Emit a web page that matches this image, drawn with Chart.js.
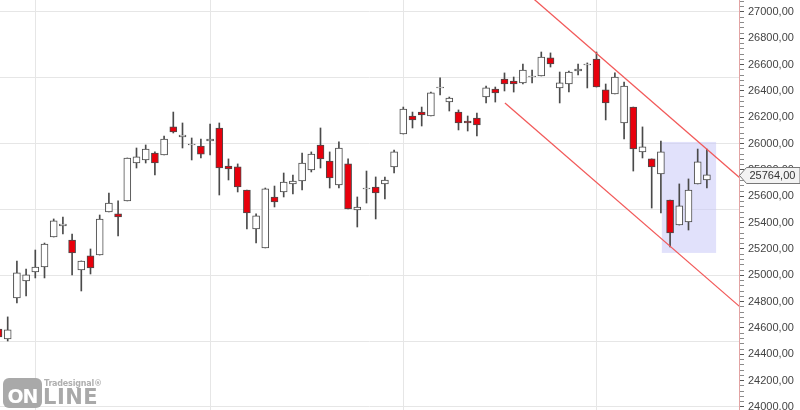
<!DOCTYPE html>
<html>
<head>
<meta charset="utf-8">
<script src="https://cdn.jsdelivr.net/npm/chart.js@4.4.1/dist/chart.umd.min.js"></script>
<style>
  html, body { margin: 0; padding: 0; background: #fff; }
  #wrap { position: relative; width: 800px; height: 410px; overflow: hidden; }
  #logo { position: absolute; left: 3px; top: 378px; height: 30px; width: 100px; font-family: "DejaVu Sans", sans-serif; }
  #logo .on { position: absolute; left: 0; top: 0; width: 39px; height: 30px; background: #a9a9a9; border-radius: 6px;
              color: #fff; font-weight: bold; font-size: 19px; line-height: 30px; text-align: center; letter-spacing: -1px; padding-top: 3px; box-sizing: border-box; }
  #logo .ts { position: absolute; left: 41px; top: 1px; font-size: 8px; font-weight: bold; color: #b0b0b0; letter-spacing: -0.2px; }
  #logo .line { position: absolute; left: 40px; top: 7px; font-size: 21px; font-weight: bold; color: #a9a9a9; letter-spacing: 0.5px; }
</style>
</head>
<body>
<div id="wrap">
  <canvas id="c" width="800" height="410"></canvas>
  <div id="logo"><div class="on">ON</div><div class="ts">Tradesignal®</div><div class="line">LINE</div></div>
</div>
<script>
// ---- data ----
const opens  = [24592,24517,24828,24957,25025,25063,25291,25375,25268,25041,25147,25154,25481,25466,25565,25853,25876,25929,25914,26127,
                26051,25990,25982,26020,26119,25830,25823,25648,25352,25208,25595,25633,25694,25716,25800,25990,25868,25686,25846,25496,
                25656,25671,25694,25823,26073,26210,26240,26210,26423,26316,26240,26172,26195,26354,26415,26491,26476,26461,26506,26514,
                26651,26423,26453,26552,26597,26643,26408,26377,26157,26278,25937,25884,25770,25572,25382,25405,25694,25724];
const highs  = [24616,24684,25109,25048,25192,25245,25428,25443,25314,25109,25200,25458,25625,25565,25891,25967,25990,25937,26058,26240,
                26157,26043,26035,26149,26157,25884,25846,25648,25466,25663,25678,25777,25762,25929,25937,26119,25937,26013,25884,25595,
                25792,25747,25747,25952,26278,26240,26278,26392,26499,26354,26256,26210,26233,26438,26430,26537,26506,26605,26559,26696,
                26689,26544,26552,26605,26613,26696,26453,26537,26468,26278,26127,25884,26020,25572,25694,25732,25959,25959];
const lows   = [24509,24501,24790,24843,24980,24980,25291,25314,25003,24881,25010,25154,25481,25299,25565,25815,25853,25762,25914,26081,
                25967,25876,25891,25914,25610,25724,25633,25352,25246,25208,25519,25595,25618,25648,25785,25815,25663,25663,25504,25367,
                25549,25428,25580,25777,26073,26119,26134,26210,26370,26248,26104,26096,26058,26309,26316,26400,26392,26453,26461,26514,
                26582,26309,26392,26522,26423,26430,26180,26377,26035,25792,25891,25511,25473,25215,25382,25344,25694,25663];
const closes = [24532,24585,25018,25003,25063,25238,25413,25390,25170,25109,25056,25428,25549,25443,25891,25899,25959,25853,26035,26089,
                26066,25997,25921,26035,25815,25808,25671,25473,25451,25656,25557,25709,25716,25853,25921,25884,25739,25967,25504,25519,
                25663,25625,25724,25937,26263,26180,26218,26385,26430,26347,26157,26157,26142,26423,26385,26453,26453,26559,26514,26658,
                26605,26461,26544,26567,26605,26430,26309,26506,26438,25959,25975,25823,25937,25322,25527,25648,25861,25764];
// month separators (candle index) and price axis ticks
const monthStarts = [4, 23, 44, 65];
const priceLabelStep = 200;
const priceMinorStep = 40;
const priceGridStep = 500;
const priceTickFrom = 24000;
const priceTickTo = 27080;
// trend channel (candle index, price)
const upperChannel = [{x: 57.3, y: 27152}, {x: 81, y: 25715}];
const lowerChannel = [{x: 55.05, y: 26309}, {x: 81, y: 24736}];
// highlighted zone (candle index range, price range)
const zoneX = [72.1, 78.0];
const zoneY = [25170, 26013];

const idx = opens.map((_, i) => i);
const bodies = idx.map(i => ({x: i, y: [opens[i], closes[i]]}));
const wicks  = idx.map(i => ({x: i, y: [lows[i], highs[i]]}));
const lastClose = closes[closes.length - 1];
const fmt = v => v.toFixed(2).replace('.', ',');
const noPad = s => { s.paddingTop = 0; s.paddingBottom = 0; s.paddingLeft = 0; s.paddingRight = 0; };

const zonePlugin = {
  id: 'zone',
  beforeDatasetsDraw(chart) {
    const {ctx, scales: {x, y}} = chart;
    const x0 = x.getPixelForValue(zoneX[0]), x1 = x.getPixelForValue(zoneX[1]);
    const y0 = y.getPixelForValue(zoneY[1]), y1 = y.getPixelForValue(zoneY[0]);
    ctx.save();
    ctx.fillStyle = 'rgba(200,200,248,0.55)';
    ctx.fillRect(x0, y0, x1 - x0, y1 - y0);
    ctx.restore();
  }
};
const priceTagPlugin = {
  id: 'priceTag',
  afterDraw(chart) {
    const {ctx, scales: {y}, chartArea} = chart;
    const py = Math.round(y.getPixelForValue(lastClose)) + 0.5;
    const left = chartArea.right + 0.5;
    ctx.save();
    ctx.beginPath();
    ctx.moveTo(left, py);
    ctx.lineTo(left + 7, py - 8);
    ctx.lineTo(800, py - 8);
    ctx.lineTo(800, py + 8);
    ctx.lineTo(left + 7, py + 8);
    ctx.closePath();
    ctx.fillStyle = '#f3f3f3';
    ctx.fill();
    ctx.strokeStyle = '#777';
    ctx.lineWidth = 1;
    ctx.stroke();
    ctx.fillStyle = '#333';
    ctx.font = '11px "Liberation Sans", Arial, sans-serif';
    ctx.textBaseline = 'middle';
    ctx.textAlign = 'left';
    ctx.fillText(fmt(lastClose), left + 10, py + 0.5);
    ctx.restore();
  }
};

new Chart(document.getElementById('c'), {
  type: 'bar',
  data: {
    datasets: [
      { type: 'line', data: upperChannel, borderColor: '#f25a5a', borderWidth: 1.3, pointRadius: 0, order: 0 },
      { type: 'line', data: lowerChannel, borderColor: '#f25a5a', borderWidth: 1.3, pointRadius: 0, order: 0 },
      { data: bodies, grouped: false, barThickness: 7, borderWidth: 1, borderSkipped: false,
        borderColor: '#4a4a4a',
        backgroundColor: c => (closes[c.dataIndex] >= opens[c.dataIndex] ? '#ffffff' : '#e8000c'),
        order: 1 },
      { data: wicks, grouped: false, barThickness: 1, borderWidth: 0, backgroundColor: '#4a4a4a', order: 2 }
    ]
  },
  options: {
    responsive: false,
    animation: false,
    layout: { padding: 0 },
    plugins: { legend: { display: false }, tooltip: { enabled: false } },
    scales: {
      x: {
        type: 'linear', min: 0.163, max: 80.49, offset: false,
        afterBuildTicks: s => { s.ticks = monthStarts.map(v => ({value: v})); },
        ticks: { display: false },
        grid: { color: '#e6e6e6', drawTicks: false, offset: false },
        border: { display: false },
        afterFit: s => { s.height = 0; noPad(s); }
      },
      yg: {
        type: 'linear', position: 'left', min: 23977, max: 27091,
        afterBuildTicks: s => { const t = []; for (let v = 24000; v <= 27000; v += priceGridStep) t.push({value: v}); s.ticks = t; },
        ticks: { display: false },
        grid: { color: '#e6e6e6', drawTicks: false },
        border: { display: false },
        afterFit: s => { s.width = 0; noPad(s); }
      },
      y: {
        type: 'linear', position: 'right', min: 23977, max: 27091,
        afterBuildTicks: s => { const t = []; for (let v = priceTickFrom; v <= priceTickTo; v += priceMinorStep) t.push({value: v}); s.ticks = t; },
        ticks: {
          autoSkip: false, padding: 4, color: '#444',
          font: { family: '"Liberation Sans", Arial, sans-serif', size: 11 },
          callback: v => (v % priceLabelStep === 0 ? fmt(v) : '')
        },
        grid: { drawOnChartArea: false, tickLength: 5, tickWidth: 1,
                tickColor: c => (c.tick && c.tick.value % priceLabelStep === 0 ? '#555' : '#8a8a8a') },
        border: { color: '#e2a4a4' },
        afterFit: s => { s.width = 61; noPad(s); }
      }
    }
  },
  plugins: [zonePlugin, priceTagPlugin]
});
</script>
</body>
</html>
